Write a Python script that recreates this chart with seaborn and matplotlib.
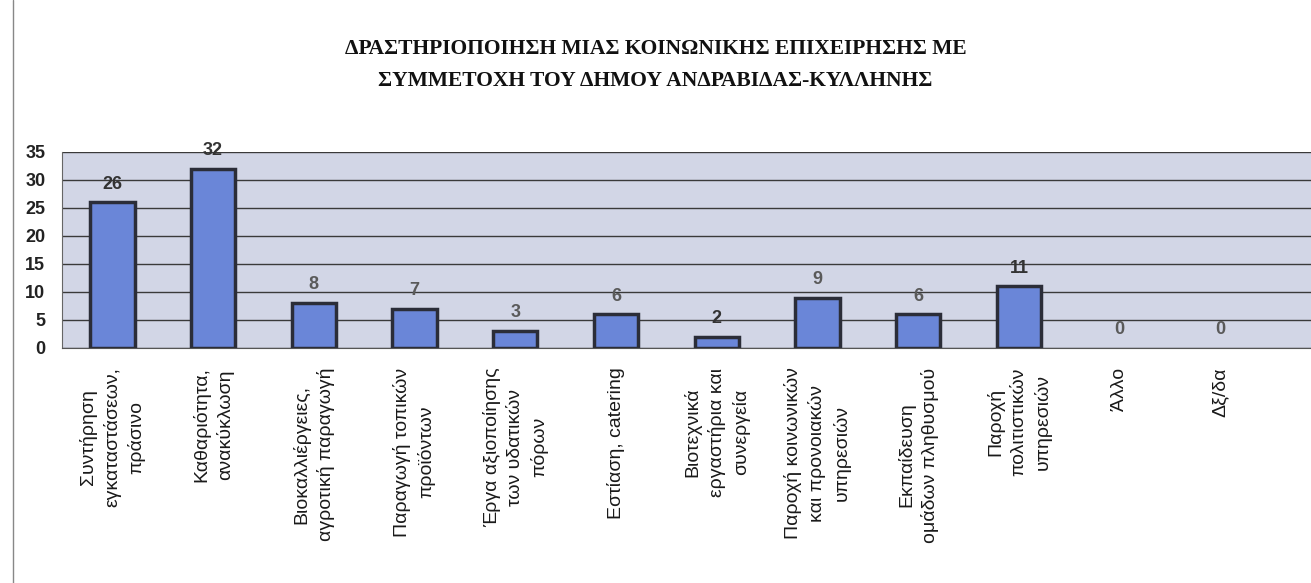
import matplotlib
matplotlib.use("Agg")
from matplotlib import pyplot as plt
from matplotlib.lines import Line2D
import numpy as np
import pandas as pd
import seaborn as sns

categories = [
    "Συντήρηση\nεγκαταστάσεων,\nπράσινο",
    "Καθαριότητα,\nανακύκλωση",
    "Βιοκαλλιέργειες,\nαγροτική παραγωγή",
    "Παραγωγή τοπικών\nπροϊόντων",
    "Έργα αξιοποίησης\nτων υδατικών\nπόρων",
    "Εστίαση, catering",
    "Βιοτεχνικά\nεργαστήρια και\nσυνεργεία",
    "Παροχή κοινωνικών\nκαι προνοιακών\nυπηρεσιών",
    "Εκπαίδευση\nομάδων πληθυσμού",
    "Παροχή\nπολιτιστικών\nυπηρεσιών",
    "Άλλο",
    "Δξ/δα",
]
values = [26, 32, 8, 7, 3, 6, 2, 9, 6, 11, 0, 0]
yticks = [0, 5, 10, 15, 20, 25, 30, 35]
title = ("ΔΡΑΣΤΗΡΙΟΠΟΙΗΣΗ ΜΙΑΣ ΚΟΙΝΩΝΙΚΗΣ ΕΠΙΧΕΙΡΗΣΗΣ ΜΕ\n"
         "ΣΥΜΜΕΤΟΧΗ ΤΟΥ ΔΗΜΟΥ ΑΝΔΡΑΒΙΔΑΣ-ΚΥΛΛΗΝΗΣ")

df = pd.DataFrame({"cat": categories, "n": values})

sns.set_style("white")
plt.rcParams["font.family"] = ["Liberation Sans", "DejaVu Sans"]

fig = plt.figure(figsize=(13.11, 5.83), dpi=100)
ax = fig.add_axes([62 / 1311, 1 - 348 / 583, 1 - 62 / 1311, 196 / 583])
ax.set_facecolor("#d2d6e6")

sns.barplot(data=df, x="cat", y="n", color="#6a86d8", width=0.44,
            edgecolor="#2b2d38", linewidth=2.5, saturation=1, ax=ax, zorder=3)
# empty categories show no bar at all
for p in ax.patches:
    if p.get_height() == 0:
        p.set_visible(False)

ax.set_ylim(0, 35)
ax.set_xlim(-0.5, 11.9)
ax.set_yticks(yticks)
ax.yaxis.grid(True, color="#3a3a3a", linewidth=1.0, zorder=0)
ax.set_axisbelow(True)
ax.tick_params(axis="y", labelsize=13, pad=12, length=0)
for t in ax.get_yticklabels():
    t.set_fontweight("bold")
    t.set_color("#222222")
ax.tick_params(axis="x", length=0, pad=14)
ax.set_xticks(range(len(categories)))
ax.set_xticklabels(categories, rotation=90, ha="center", va="top",
                   multialignment="center", fontsize=14, linespacing=1.45,
                   color="#1a1a1a")
ax.set_xlabel("")
ax.set_ylabel("")
for side in ["top", "right"]:
    ax.spines[side].set_visible(False)
ax.spines["left"].set_color("#666666")
ax.spines["bottom"].set_color("#555555")

for i, v in enumerate(values):
    ax.annotate(str(v), (i, v), xytext=(0, 7), textcoords="offset points",
                ha="center", va="bottom", fontsize=13, fontweight="bold",
                color="#333333" if v in (26, 32, 11, 2) else "#5a5a5a")

fig.text(0.5, 1 - 65 / 583, title, ha="center", va="center",
         fontsize=15.5, fontweight="bold", family="Liberation Serif",
         linespacing=1.8, color="#111111")

# left frame line of the scanned page
fig.add_artist(Line2D([13 / 1311, 13 / 1311], [0, 1], color="#888888", linewidth=1))

fig.savefig("out.png", dpi=100, facecolor="white")
